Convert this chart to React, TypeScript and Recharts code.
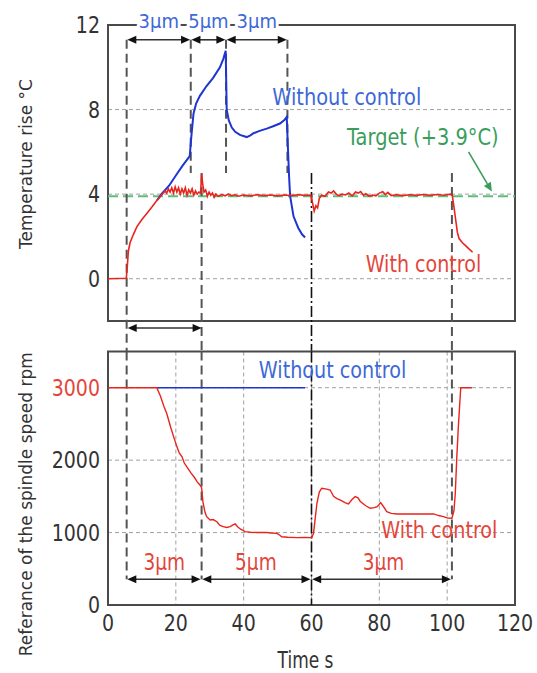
import {
  CartesianGrid,
  ComposedChart,
  Label,
  Line,
  ReferenceArea,
  ReferenceDot,
  ReferenceLine,
  XAxis,
  YAxis,
} from "recharts";

// ---- data (time s, value) ----
const timeTicks = [0, 20, 40, 60, 80, 100, 120];
const tempTicks = [0, 4, 8, 12];
const speedTicks = [0, 1000, 2000, 3000];
const TARGET_TEMP = 3.9;

const tempWithControl: [number, number][] = [
  [0, 0], [5.4, 0.02], [5.7, 0.6], [6.0, 1.3], [6.5, 1.7], [7.5, 2.1], [8.5, 2.45], [10, 2.8],
  [11.5, 3.1], [13, 3.4], [14.5, 3.72], [15.5, 3.9], [16.3, 4.05], [16.8, 4.15], [17.3, 4.05],
  [17.8, 4.25], [18.3, 4.1], [18.8, 4.3], [19.3, 4.05], [19.8, 4.35], [20.3, 4.1], [20.8, 4.3],
  [21.3, 4.0], [21.8, 4.25], [22.3, 4.05], [22.8, 4.3], [23.3, 3.95], [23.8, 4.2], [24.3, 4.05],
  [24.8, 4.25], [25.3, 3.95], [25.8, 4.15], [26.3, 4.0], [26.8, 4.1], [27.3, 4.05], [27.6, 4.95],
  [27.9, 4.5], [28.3, 4.1], [28.8, 4.2], [29.3, 3.9], [29.8, 4.1], [30.3, 3.95], [30.8, 4.05],
  [31.3, 3.85], [31.8, 4.0], [32.5, 3.9], [33.5, 3.98], [34.5, 3.92], [35.5, 4.0], [36.5, 3.93],
  [37.5, 3.97], [38.5, 3.9], [40, 3.96], [42, 3.92], [44, 3.97], [46, 3.93], [48, 3.96], [50, 3.92],
  [52, 3.96], [54, 3.93], [56, 3.97], [58, 3.94], [59.8, 3.96], [60.3, 3.6], [60.8, 3.2],
  [61.3, 3.45], [61.8, 3.35], [62.3, 3.8], [63, 3.95], [64, 3.9], [65, 4.1], [65.8, 4.05],
  [66.5, 4.15], [67.3, 4.0], [68, 3.93], [69, 4.0], [70, 3.96], [71, 4.05], [72, 3.92], [73, 4.1],
  [73.8, 4.05], [74.5, 4.12], [75.3, 3.95], [76, 4.02], [77, 3.9], [78, 3.96], [79, 3.92], [80, 4.05],
  [81, 4.12], [81.8, 3.98], [82.5, 4.08], [83.5, 3.93], [85, 3.97], [87, 3.93], [89, 3.97],
  [91, 3.94], [93, 3.98], [95, 3.94], [97, 3.98], [99, 3.95], [101, 4.0], [101.5, 3.95], [102, 3.4],
  [102.5, 2.8], [103, 2.2], [103.5, 1.9], [104.5, 1.7], [105.5, 1.55], [106.5, 1.4], [107.5, 1.25],
];

const tempWithoutControl: [number, number][] = [
  [14.5, 3.72], [16, 4.05], [18, 4.4], [20.3, 4.95], [22, 5.35], [24.1, 5.8], [24.5, 6.6],
  [25.2, 7.8], [26, 8.3], [27.1, 8.65], [29, 9.1], [31, 9.5], [33, 10.0], [34, 10.4], [34.7, 10.78],
  [35, 8.0], [35.6, 7.5], [36.5, 7.15], [37.5, 6.95], [38.9, 6.8], [40.9, 6.7], [42, 6.78],
  [42.9, 6.88], [44.5, 6.98], [46.8, 7.1], [48.5, 7.2], [50.7, 7.34], [52, 7.5], [52.7, 7.65],
  [53.1, 6.0], [53.4, 4.8], [53.7, 3.9], [54.7, 2.95], [56.1, 2.4], [57.2, 2.1], [58.1, 1.95],
];

const speedWithControl: [number, number][] = [
  [0, 3000], [14.4, 3000], [15.5, 2880], [16.5, 2740], [17.3, 2648], [18.5, 2450], [19.5, 2300],
  [20.3, 2187], [21, 2100], [21.8, 2050], [22.5, 1960], [23.2, 1910], [24.5, 1820], [25.5, 1760],
  [26.3, 1700], [27.1, 1657], [27.6, 1620], [28, 1420], [28.6, 1280], [29.1, 1220], [30.1, 1174],
  [31, 1180], [32.1, 1150], [33, 1100], [34, 1081], [35, 1070], [36, 1081], [37, 1110], [37.5, 1119],
  [38.2, 1080], [39, 1050], [40.4, 1013], [42, 1005], [44, 1000], [46.8, 1000], [48, 995],
  [49.7, 990], [50.5, 970], [51.2, 943], [53, 935], [55.7, 930], [58, 932], [60.1, 930], [60.6, 990],
  [61.6, 1405], [62.3, 1560], [63, 1612], [64.5, 1600], [65.5, 1588], [66.5, 1500], [67.5, 1470],
  [68.4, 1450], [70, 1410], [70.9, 1395], [72, 1460], [72.9, 1496], [73.7, 1480], [74.4, 1430],
  [76, 1370], [77.3, 1335], [78.5, 1345], [79.4, 1358], [80.4, 1413], [81.2, 1360], [82.2, 1289],
  [83.5, 1265], [85.2, 1257], [90, 1257], [96, 1257], [97.5, 1235], [98.9, 1220], [100.2, 1200],
  [101.4, 1197], [102, 1300], [102.4, 1543], [102.8, 2000], [103.3, 2463], [104, 3000], [107.3, 3000],
];

const speedWithoutControl: [number, number][] = [
  [14.4, 3000], [58.1, 3000],
];

// stage boundaries (s)
const stageStart = 5.5;
const stageEdgesTop = [24.4, 34.8, 52.9];
const stageEdgesBottom = [27.6, 60, 101.4];
const stageLabels = ["3μm", "5μm", "3μm"];

const BLUE = "#1f35d2";
const BLUE_TEXT = "#3d68d8";
const RED = "#e8251d";
const RED_TEXT = "#e4453b";
const GREEN = "#5cbf78";
const GREEN_TEXT = "#3a9d5c";
const INK = "#333";
const FRAME = "#4a4a4a";
const GRID = "#a0a0a0";
const FONT = "'DejaVu Sans', Verdana, sans-serif";

const toRows = (pts: [number, number][]) => pts.map(([t, v]) => ({ t, v }));

type TextProps = {
  x: number;
  y: number;
  text: string;
  size?: number;
  fill?: string;
  anchor?: "start" | "middle" | "end";
  k?: number;
  halo?: boolean;
};

function TallText({ x, y, text, size = 19, fill = INK, anchor = "middle", k = 1.2, halo = false }: TextProps) {
  return (
    <text
      transform={`translate(${x},${y}) scale(1,${k})`}
      textAnchor={anchor}
      fontFamily={FONT}
      fontSize={size}
      fill={fill}
      stroke={halo ? "#fff" : "none"}
      strokeWidth={halo ? 6 : 0}
      strokeLinejoin="round"
      style={{ paintOrder: "stroke" }}
    >
      {text}
    </text>
  );
}

function DoubleArrow(p: any) {
  const { x1, y1, x2, y2 } = p;
  const h = 9;
  const w = 4;
  return (
    <g>
      <line x1={x1 + h - 1} y1={y1} x2={x2 - h + 1} y2={y2} stroke="#333" strokeWidth={1.6} />
      <polygon points={`${x1},${y1} ${x1 + h},${y1 - w} ${x1 + h},${y1 + w}`} fill="#111" />
      <polygon points={`${x2},${y2} ${x2 - h},${y2 - w} ${x2 - h},${y2 + w}`} fill="#111" />
    </g>
  );
}

function PointerArrow(p: any) {
  const { x1, y1, x2, y2 } = p;
  const len = Math.hypot(x2 - x1, y2 - y1);
  const ux = (x2 - x1) / len;
  const uy = (y2 - y1) / len;
  const h = 9;
  const w = 4;
  const bx = x2 - ux * h;
  const by = y2 - uy * h;
  return (
    <g>
      <line x1={x1} y1={y1} x2={bx} y2={by} stroke={GREEN_TEXT} strokeWidth={1.6} />
      <polygon
        points={`${x2},${y2} ${bx - uy * w},${by + ux * w} ${bx + uy * w},${by - ux * w}`}
        fill={GREEN_TEXT}
      />
    </g>
  );
}

type Note = { t: number; v: number; text: string; color: string; size?: number; halo?: boolean; k?: number };

const renderNote = (n: Note, key: string) => (
  <ReferenceDot
    key={key}
    x={n.t}
    y={n.v}
    r={0}
    ifOverflow="visible"
    isFront
    shape={(p: any) => (
      <TallText x={p.cx} y={p.cy} text={n.text} fill={n.color} size={n.size} halo={n.halo} k={n.k} />
    )}
  />
);

const renderArrow = (key: string, from: number, to: number, y: number) => (
  <ReferenceLine
    key={key}
    segment={[{ x: from, y }, { x: to, y }]}
    ifOverflow="visible"
    isFront
    shape={(p: any) => <DoubleArrow {...p} />}
  />
);

const renderDash = (key: string, x: number, yFrom: number, yTo: number, black = false) => (
  <ReferenceLine
    key={key}
    segment={[{ x, y: yFrom }, { x, y: yTo }]}
    ifOverflow="visible"
    stroke={black ? "#111" : "#555"}
    strokeWidth={black ? 1.6 : 2}
    strokeDasharray={black ? "11 3 2 3" : "9 5"}
  />
);

function YTick(props: any) {
  const { x, y, payload, redValue } = props;
  return (
    <TallText
      x={x}
      y={y + 8}
      text={String(payload.value)}
      anchor="end"
      size={19}
      fill={payload.value === redValue ? RED_TEXT : INK}
    />
  );
}

function XTick(props: any) {
  const { x, y, payload } = props;
  return <TallText x={x} y={y + 26} text={String(payload.value)} size={19} />;
}

const topNotes: Note[] = [
  { t: 70.4, v: 8.22, text: "Without control", color: BLUE_TEXT, size: 19.4 },
  { t: 92.8, v: 6.32, text: "Target (+3.9°C)", color: GREEN_TEXT, size: 19.4 },
  { t: 93.0, v: 0.34, text: "With control", color: RED_TEXT, size: 19.1 },
];

const bottomNotes: Note[] = [
  { t: 66.2, v: 3131, text: "Without control", color: BLUE_TEXT, size: 19.2 },
  { t: 97.7, v: 921, text: "With control", color: RED_TEXT, size: 19.2 },
];

export default function App() {
  const topStops = [stageStart, ...stageEdgesTop];
  const bottomStops = [stageStart, ...stageEdgesBottom];
  const topArrowY = 11.3;
  const gapArrowY = -2.33;
  const gapBottom = -3.5;
  const bottomArrowY = 355;

  return (
    <div style={{ position: "absolute", left: 0, top: 0, width: 537, height: 673, background: "#fff", fontFamily: FONT }}>
      <div style={{ position: "absolute", left: 0, top: 0 }}>
        <ComposedChart width={537} height={352} margin={{ top: 25, right: 22, bottom: 31, left: 48 }}>
          <CartesianGrid stroke={GRID} strokeDasharray="4 3" />
          <XAxis
            type="number"
            dataKey="t"
            domain={[0, 120]}
            ticks={timeTicks}
            tick={false}
            tickLine={false}
            axisLine={false}
            height={0}
          />
          <YAxis
            type="number"
            dataKey="v"
            domain={[-2, 12]}
            ticks={tempTicks}
            width={60}
            tickSize={0}
            tickMargin={8}
            axisLine={false}
            tickLine={false}
            tick={(p: any) => <YTick {...p} />}
          >
            <Label
              content={(p: any) => {
                const vb = p.viewBox;
                return (
                  <text
                    transform={`translate(${vb.x - 16},${vb.y + vb.height / 2 - 9}) rotate(-90)`}
                    textAnchor="middle"
                    fontFamily={FONT}
                    fontSize={17}
                    fill={INK}
                  >
                    Temperature rise °C
                  </text>
                );
              }}
            />
          </YAxis>
          <ReferenceArea x1={0} x2={120} y1={-2} y2={12} fill="none" stroke={FRAME} strokeWidth={2} ifOverflow="visible" />
          <ReferenceLine y={TARGET_TEMP} stroke={GREEN} strokeWidth={2} strokeDasharray="10 5" />
          {renderDash("d0", stageStart, topArrowY, gapBottom)}
          {stageEdgesTop.map((x, i) => renderDash(`dt${i}`, x, topArrowY, 5))}
          {stageEdgesBottom.map((x, i) => renderDash(`db${i}`, x, 5, gapBottom, x === 60))}
          <Line
            data={toRows(tempWithoutControl)}
            dataKey="v"
            type="linear"
            stroke={BLUE}
            strokeWidth={2}
            dot={false}
            isAnimationActive={false}
          />
          <Line
            data={toRows(tempWithControl)}
            dataKey="v"
            type="linear"
            stroke={RED}
            strokeWidth={1.6}
            dot={false}
            isAnimationActive={false}
          />
          {stageLabels.map((_, i) => renderArrow(`ta${i}`, topStops[i] + 0.2, topStops[i + 1] - 0.2, topArrowY))}
          {renderArrow("ga", stageStart + 0.3, stageEdgesBottom[0], gapArrowY)}
          {stageLabels.map((s, i) =>
            renderNote(
              { t: (topStops[i] + topStops[i + 1]) / 2, v: 11.84, text: s, color: BLUE_TEXT, size: 18, halo: true, k: 1.1 },
              `tl${i}`,
            ),
          )}
          {topNotes.map((n, i) => renderNote(n, `tn${i}`))}
          <ReferenceLine
            segment={[{ x: 106.3, y: 6.0 }, { x: 113.2, y: 4.12 }]}
            ifOverflow="visible"
            isFront
            shape={(p: any) => <PointerArrow {...p} />}
          />
        </ComposedChart>
      </div>

      <div style={{ position: "absolute", left: 0, top: 345 }}>
        <ComposedChart width={537} height={328} margin={{ top: 6.5, right: 22, bottom: 28, left: 48 }}>
          <CartesianGrid stroke={GRID} strokeDasharray="4 3" />
          <XAxis
            type="number"
            dataKey="t"
            domain={[0, 120]}
            ticks={timeTicks}
            height={40}
            tickSize={0}
            tickMargin={0}
            axisLine={false}
            tickLine={false}
            tick={(p: any) => <XTick {...p} />}
          >
            <Label
              content={(p: any) => {
                const vb = p.viewBox;
                return (
                  <TallText x={vb.x + vb.width / 2 - 6} y={vb.y + 63} text="Time s" size={17} k={1.3} />
                );
              }}
            />
          </XAxis>
          <YAxis
            type="number"
            dataKey="v"
            domain={[0, 3500]}
            ticks={speedTicks}
            width={60}
            tickSize={0}
            tickMargin={8}
            axisLine={false}
            tickLine={false}
            tick={(p: any) => <YTick {...p} redValue={3000} />}
          >
            <Label
              content={(p: any) => {
                const vb = p.viewBox;
                return (
                  <text
                    transform={`translate(${vb.x - 16},${vb.y + vb.height / 2 + 26}) rotate(-90)`}
                    textAnchor="middle"
                    fontFamily={FONT}
                    fontSize={17}
                    fill={INK}
                  >
                    Referance of the spindle speed rpm
                  </text>
                );
              }}
            />
          </YAxis>
          <ReferenceArea x1={0} x2={120} y1={0} y2={3500} fill="none" stroke={FRAME} strokeWidth={2} ifOverflow="visible" />
          {renderDash("bd0", stageStart, 3500, bottomArrowY)}
          {stageEdgesBottom.map((x, i) => renderDash(`bd${i + 1}`, x, 3500, x === 60 ? 0 : bottomArrowY, x === 60))}
          <Line
            data={toRows(speedWithoutControl)}
            dataKey="v"
            type="linear"
            stroke={BLUE}
            strokeWidth={1.6}
            dot={false}
            isAnimationActive={false}
          />
          <Line
            data={toRows(speedWithControl)}
            dataKey="v"
            type="linear"
            stroke={RED}
            strokeWidth={1.4}
            dot={false}
            isAnimationActive={false}
          />
          {stageLabels.map((_, i) =>
            renderArrow(`ba${i}`, bottomStops[i] + 0.2, bottomStops[i + 1] - 0.3, bottomArrowY),
          )}
          {stageLabels.map((s, i) =>
            renderNote(
              { t: [16.6, 43.6, 81.2][i], v: 483, text: s, color: RED_TEXT, size: 18.5 },
              `bl${i}`,
            ),
          )}
          {bottomNotes.map((n, i) => renderNote(n, `bn${i}`))}
        </ComposedChart>
      </div>
    </div>
  );
}
